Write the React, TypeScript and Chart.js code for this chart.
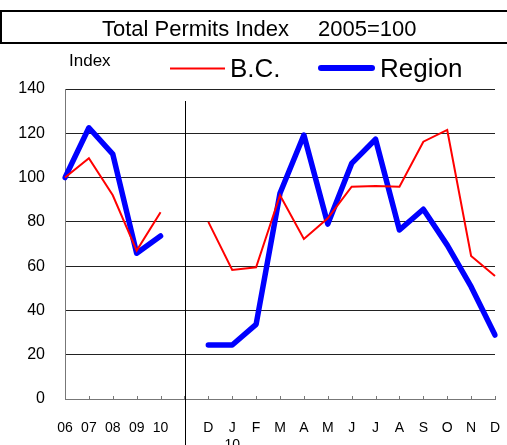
import React, { useEffect, useRef } from "react";
import { Chart, registerables } from "chart.js";

Chart.register(...registerables);

const categories: (string | string[])[] = [
  "06", "07", "08", "09", "10", "",
  "D", ["J", "10"], "F", "M", "A", "M", "J", "J", "A", "S", "O", "N", "D",
];
const bcValues: (number | null)[] = [
  100, 108.7, 92, 67, 84.3, null,
  80, 58.3, 59.5, 92, 72.3, 81.6, 95.9, 96.2, 95.9, 116.2, 121.5, 64.6, 55.5,
];
const regionValues: (number | null)[] = [
  100, 122.5, 110.6, 65.8, 73.6, null,
  24.4, 24.4, 33.7, 92.9, 119.2, 79, 106.4, 117.3, 76.3, 85.7, 69.5, 50.7, 28.9,
];
const yTicks = [0, 20, 40, 60, 80, 100, 120, 140];
const titleMain = "Total Permits Index";
const titleBase = "2005=100";
const yAxisTitle = "Index";
const seriesNames = ["B.C.", "Region"];
const dividerIndex = 5;

const FONT = "'Liberation Sans', Arial, sans-serif";

const decorPlugin = {
  id: "decor",
  afterDraw(chart: any) {
    const ctx = chart.ctx as CanvasRenderingContext2D;
    const xs = chart.scales.x;
    const area = chart.chartArea;
    ctx.save();
    // title box
    ctx.strokeStyle = "#000";
    ctx.lineWidth = 2;
    ctx.strokeRect(1, 11, 620, 32);
    ctx.fillStyle = "#000";
    ctx.textBaseline = "alphabetic";
    ctx.textAlign = "left";
    ctx.font = `22px ${FONT}`;
    ctx.fillText(titleMain, 102, 36);
    ctx.fillText(titleBase, 318, 36);
    // axis title
    ctx.font = `17px ${FONT}`;
    ctx.fillText(yAxisTitle, 69, 66);
    // legend
    ctx.lineCap = "butt";
    ctx.strokeStyle = "#ff0000";
    ctx.lineWidth = 2;
    ctx.beginPath();
    ctx.moveTo(170, 68.5);
    ctx.lineTo(225, 68.5);
    ctx.stroke();
    ctx.font = `26px ${FONT}`;
    ctx.fillText(seriesNames[0], 230, 77);
    ctx.strokeStyle = "#0000ff";
    ctx.lineWidth = 6;
    ctx.lineCap = "round";
    ctx.beginPath();
    ctx.moveTo(321, 68);
    ctx.lineTo(372, 68);
    ctx.stroke();
    ctx.fillText(seriesNames[1], 380, 77);
    // tick marks (inside, upward)
    ctx.lineCap = "butt";
    ctx.strokeStyle = "#777";
    ctx.lineWidth = 1;
    for (let i = 0; i < categories.length; i++) {
      const x = Math.round(xs.getPixelForTick(i)) + 0.5;
      ctx.beginPath();
      ctx.moveTo(x, area.bottom);
      ctx.lineTo(x, area.bottom - 3);
      ctx.stroke();
    }
    // divider
    const dx = Math.round(xs.getPixelForTick(dividerIndex)) + 1.5;
    ctx.strokeStyle = "#000";
    ctx.lineWidth = 1;
    ctx.beginPath();
    ctx.moveTo(dx, 101);
    ctx.lineTo(dx, 445);
    ctx.stroke();
    ctx.restore();
  },
};

export default function App() {
  const ref = useRef<HTMLCanvasElement>(null);
  useEffect(() => {
    if (!ref.current) return;
    const chart = new Chart(ref.current, {
      type: "line",
      data: {
        labels: categories as any,
        datasets: [
          {
            label: seriesNames[0],
            data: bcValues,
            borderColor: "#ff0000",
            borderWidth: 2,
            pointRadius: 0,
            tension: 0,
            spanGaps: false,
          },
          {
            label: seriesNames[1],
            data: regionValues,
            borderColor: "#0000ff",
            borderWidth: 5.5,
            pointRadius: 0,
            tension: 0,
            spanGaps: false,
            borderJoinStyle: "round",
            borderCapStyle: "round",
          },
        ],
      },
      options: {
        responsive: false,
        animation: false,
        devicePixelRatio: 1,
        layout: { padding: { top: 89, right: 12, left: 0, bottom: 0 } },
        plugins: {
          legend: { display: false },
          title: { display: false },
          tooltip: { enabled: false },
        },
        scales: {
          x: {
            type: "category",
            offset: false,
            grid: { display: false, drawTicks: false },
            border: { display: true, color: "#777", width: 1 },
            ticks: {
              autoSkip: false,
              maxRotation: 0,
              minRotation: 0,
              padding: 21,
              color: "#000",
              font: { family: FONT, size: 14 },
            },
            afterFit(scale: any) {
              scale.height = 46;
              scale.paddingLeft = 0;
              scale.paddingRight = 0;
            },
          },
          y: {
            min: 0,
            max: 140,
            afterBuildTicks(scale: any) {
              scale.ticks = yTicks.map((v) => ({ value: v }));
            },
            grid: { color: "#222", lineWidth: 1, drawTicks: false },
            border: { display: true, color: "#777", width: 1 },
            ticks: {
              padding: 20,
              color: "#000",
              font: { family: FONT, size: 16 },
            },
            afterFit(scale: any) {
              scale.width = 65;
            },
          },
        },
      },
      plugins: [decorPlugin],
    });
    return () => chart.destroy();
  }, []);
  return (
    <div style={{ position: "absolute", left: 0, top: 0, width: 507, height: 445, background: "#fff" }}>
      <canvas ref={ref} width={507} height={445} style={{ display: "block" }} />
    </div>
  );
}
